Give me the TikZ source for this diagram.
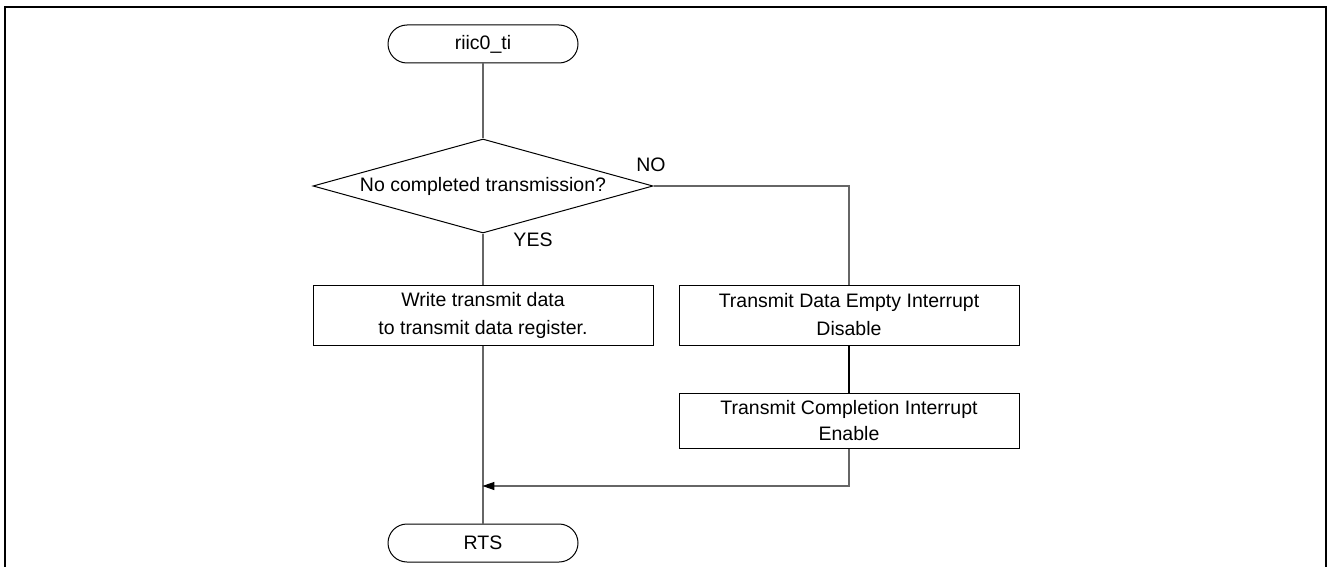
\documentclass[tikz,border=0pt]{standalone}
\usepackage{fontspec}
\setmainfont{Liberation Sans}
\usetikzlibrary{shapes.geometric,arrows.meta}
\begin{document}
\begin{tikzpicture}[x=1pt,y=-1pt,
  every node/.style={font=\fontsize{19.5}{28}\selectfont, inner sep=0pt},
  terminal/.style={draw=black, line width=1pt, rectangle, rounded corners=19pt,
    minimum width=190pt, minimum height=38pt},
  decision/.style={draw=black, line width=1pt, diamond, aspect=3.617,
    minimum width=340pt, minimum height=94pt},
  process/.style={draw=black, line width=1pt, rectangle, align=center,
    minimum width=340pt, minimum height=60pt},
  flow/.style={draw=black!60, line width=1.2pt},
  flowdark/.style={draw=black, line width=1.6pt},
  frameline/.style={draw=black, line width=2.6pt},
  lbl/.style={anchor=center}
]
\useasboundingbox (0,0) rectangle (1328,567);

% open frame around the chart
\draw[frameline] (5,567) -- (5,7) -- (1326,7) -- (1326,567);

% nodes
\node[terminal] (start) at (483,44) {riic0\_ti};
\node[decision] (dec) at (483,186) {No completed transmission?};
\node[process] (write) at (483,315) {Write transmit data\\to transmit data register.};
\node[process] (dis) at (849,315) {Transmit Data Empty Interrupt\\Disable};
\node[process, minimum height=55pt, font=\fontsize{19.5}{26}\selectfont] (comp) at (849,420.5) {Transmit Completion Interrupt\\Enable};
\node[terminal] (rts) at (483,543) {RTS};
\coordinate (merge) at (483,486);

% branch labels
\node[lbl] (no) at (651,165) {NO};
\node[lbl] (yes) at (533,240) {YES};

% connectors
\draw[flow] (start.south) -- (dec.north);
\draw[flow] (dec.south) -- (write.north);
\draw[flow] (dec.east) -| (dis.north);
\draw[flowdark] (dis.south) -- (comp.north);
\draw[flow] (write.south) -- (rts.north);
\draw[flow, -{Triangle[length=12pt,width=8pt,color=black]}, shorten >=-0.6pt] (comp.south) |- (merge);
\end{tikzpicture}
\end{document}
